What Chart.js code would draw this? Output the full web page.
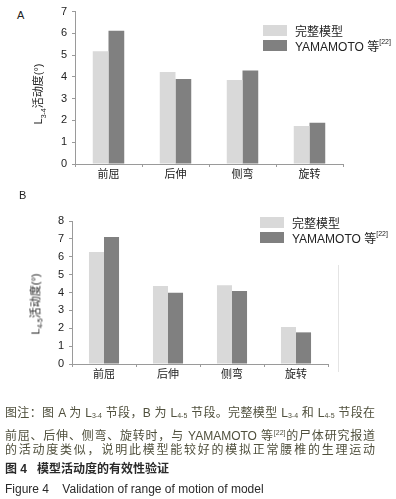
<!DOCTYPE html>
<html>
<head>
<meta charset="utf-8">
<script src="https://cdn.jsdelivr.net/npm/chart.js@4"></script>
<style>
  body { margin: 0; background: #fff; font-family: "Liberation Sans", "Noto Sans CJK SC", sans-serif; }
  #page { position: relative; width: 396px; height: 499px; overflow: hidden; }
  .abs { position: absolute; }
  .panel { font-size: 11px; color: #222; }
  .ytitle { transform: translate(-50%, -50%) rotate(-90deg); white-space: nowrap; font-size: 11px; color: #222; }
  .ytitle sub { font-size: 7px; }
  .legend { font-size: 12px; color: #222; }
  .legend .row { display: flex; align-items: center; height: 15px; }
  .legend .box { width: 24px; height: 11px; margin-right: 8px; }
  .legend sup { font-size: 7px; position: relative; top: -4px; }
  .cap { left: 5px; width: 370px; font-size: 12px; line-height: 14px; white-space: nowrap; }
  .just { text-align: justify; text-align-last: justify; white-space: normal; }
  .cap sub { font-size: 7px; vertical-align: -1px; }
  .cap sup { font-size: 7px; vertical-align: 5px; }
</style>
</head>
<body>
<div id="page">
  <div class="abs panel" style="left:17px; top:9px;">A</div>
  <canvas id="chartA" class="abs" style="left:0; top:0;" width="396" height="180"></canvas>
  <div class="abs ytitle" style="left:38px; top:94px;">L<sub>3-4</sub>活动度(°)</div>
  <div class="abs legend" id="legendA" style="left:263px; top:23px;"></div>

  <div class="abs panel" style="left:19px; top:189px;">B</div>
  <canvas id="chartB" class="abs" style="left:0; top:180px;" width="396" height="210"></canvas>
  <div class="abs ytitle" style="left:35px; top:304px;">L<sub>4-5</sub>活动度(°)</div>
  <div class="abs legend" id="legendB" style="left:260px; top:215px;"></div>
  <div class="abs" style="left:338px; top:265px; width:1px; height:107px; background:#e4e4e4;"></div>

  <div class="abs cap just" style="top:406px; color:#4f4f3c;">图注：图 A 为 L<sub>3-4</sub> 节段，B 为 L<sub>4-5</sub> 节段。完整模型 L<sub>3-4</sub> 和 L<sub>4-5</sub> 节段在</div>
  <div class="abs cap just" style="top:426px; color:#4f4f3c;">前屈、后伸、侧弯、旋转时，与 YAMAMOTO 等<sup>[22]</sup>的尸体研究报道</div>
  <div class="abs cap just" style="top:443px; color:#4f4f3c;">的活动度类似，说明此模型能较好的模拟正常腰椎的生理运动</div>
  <div class="abs cap" style="top:462px; color:#2a2a2a; font-weight:bold;">图 4&nbsp;&nbsp;&nbsp;模型活动度的有效性验证</div>
  <div class="abs cap" style="top:482px; color:#2a2a2a;">Figure 4&nbsp;&nbsp;&nbsp;&nbsp;Validation of range of motion of model</div>
</div>

<script>
// values (degrees)
const categories = ['前屈', '后伸', '侧弯', '旋转'];
const seriesNames = ['完整模型', 'YAMAMOTO 等'];
const refMark = '[22]';
const modelA = [5.18, 4.23, 3.86, 1.75];
const yamamotoA = [6.12, 3.9, 4.3, 1.89];
const modelB = [6.27, 4.37, 4.41, 2.07];
const yamamotoB = [7.1, 3.98, 4.08, 1.77];
const maxA = 7;
const maxB = 8;

const lightGray = '#d9d9d9';
const darkGray = '#808080';
const axisGray = '#9a9a9a';

function buildLegend(id) {
    const el = document.getElementById(id);
    const colors = [lightGray, darkGray];
    seriesNames.forEach(function (name, i) {
        const row = document.createElement('div');
        row.className = 'row';
        const box = document.createElement('span');
        box.className = 'box';
        box.style.background = colors[i];
        const txt = document.createElement('span');
        txt.textContent = name;
        row.appendChild(box);
        row.appendChild(txt);
        if (i === 1) {
            const sup = document.createElement('sup');
            sup.textContent = refMark;
            row.appendChild(sup);
        }
        el.appendChild(row);
    });
}

function createBarChart(canvasId, model, yama, max, pad) {
    const tickFont = { family: '"Liberation Sans", "Noto Sans CJK SC", sans-serif', size: 11 };
    new Chart(document.getElementById(canvasId), {
        type: 'bar',
        data: {
            labels: categories,
            datasets: [
                { label: seriesNames[0], data: model, backgroundColor: lightGray },
                { label: seriesNames[1], data: yama, backgroundColor: darkGray }
            ]
        },
        options: {
            responsive: false,
            animation: false,
            layout: { padding: pad },
            datasets: { bar: { categoryPercentage: 0.47, barPercentage: 1 } },
            plugins: { legend: { display: false }, tooltip: { enabled: false } },
            scales: {
                x: {
                    afterFit: function (scale) { scale.height = 16; },
                    grid: { drawOnChartArea: false, tickLength: 3, color: axisGray },
                    border: { color: axisGray },
                    ticks: { color: '#222', font: tickFont, padding: 1 }
                },
                y: {
                    min: 0,
                    max: max,
                    afterFit: function (scale) { scale.width = 30; },
                    grid: { drawOnChartArea: false, tickLength: 3, color: axisGray },
                    border: { color: axisGray },
                    ticks: { stepSize: 1, color: '#222', font: tickFont, padding: 5 }
                }
            }
        }
    });
}

buildLegend('legendA');
buildLegend('legendB');
createBarChart('chartA', modelA, yamamotoA, maxA, { left: 45, right: 53, top: 10, bottom: 0 });
createBarChart('chartB', modelB, yamamotoB, maxB, { left: 42, right: 68, top: 41, bottom: 10 });
</script>
</body>
</html>
